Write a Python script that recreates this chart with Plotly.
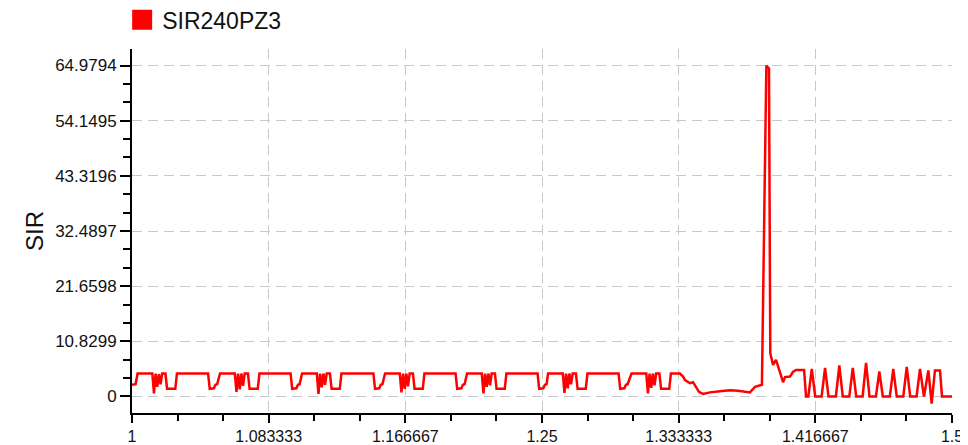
import plotly.graph_objects as go

series_name = "SIR240PZ3"
y_title = "SIR"

# ---- data ----
sir_x = [
    # periodic section
    1.0000, 1.0022, 1.0034, 1.0124, 1.0134, 1.0144, 1.0154, 1.0164, 1.0174, 1.0184, 1.0204, 1.0214, 1.0264, 1.0274, 1.0464, 1.0474, 1.0499, 1.0509, 1.0519,
    1.0537, 1.0627, 1.0637, 1.0647, 1.0657, 1.0667, 1.0677, 1.0687, 1.0707, 1.0717, 1.0767, 1.0777, 1.0967, 1.0977, 1.1002, 1.1012, 1.1022,
    1.1037, 1.1127, 1.1137, 1.1147, 1.1157, 1.1167, 1.1177, 1.1187, 1.1207, 1.1217, 1.1267, 1.1277, 1.1472, 1.1482, 1.1507, 1.1517, 1.1527,
    1.1543, 1.1633, 1.1643, 1.1653, 1.1663, 1.1673, 1.1683, 1.1693, 1.1713, 1.1723, 1.1773, 1.1783, 1.1973, 1.1983, 1.2008, 1.2018, 1.2028,
    1.2043, 1.2133, 1.2143, 1.2153, 1.2163, 1.2173, 1.2183, 1.2193, 1.2213, 1.2223, 1.2273, 1.2283, 1.2473, 1.2483, 1.2508, 1.2518, 1.2528,
    1.2537, 1.2627, 1.2637, 1.2647, 1.2657, 1.2667, 1.2677, 1.2687, 1.2707, 1.2717, 1.2767, 1.2777, 1.2967, 1.2977, 1.3002, 1.3012, 1.3022,
    1.3046, 1.3136, 1.3146, 1.3156, 1.3166, 1.3176, 1.3186, 1.3196, 1.3216, 1.3226, 1.3276, 1.3286,
    # transition and spike
    1.3341, 1.3360, 1.3372, 1.3402, 1.3421, 1.3457, 1.3482, 1.3524, 1.3585, 1.3646, 1.3695, 1.3738, 1.3768, 1.3799, 1.3829, 1.3841,
    1.3868, 1.3884, 1.3892, 1.3909, 1.3927, 1.3951, 1.3970, 1.3982, 1.4012, 1.4030, 1.4049, 1.4098, 1.4110,
    # oscillating tail
    1.4124, 1.4145, 1.4166, 1.4205, 1.4226, 1.4247, 1.4292, 1.4313, 1.4334, 1.4374, 1.4395, 1.4416,
    1.4455, 1.4476, 1.4497, 1.4536, 1.4557, 1.4578, 1.4621, 1.4642, 1.4663, 1.4703, 1.4724, 1.4745,
    1.4784, 1.4805, 1.4829, 1.4856, 1.4876, 1.4896, 1.4927, 1.4939, 1.5000,
]
sir_y = [
    2.3, 2.4, 4.5, 4.5, 0.6, 4.5, 1.9, 4.4, 2.4, 4.5, 4.5, 1.5, 1.5, 4.5, 4.5, 1.5, 1.6, 2.3, 2.4,
    4.5, 4.5, 0.9, 4.5, 1.4, 4.5, 2.1, 4.5, 4.5, 1.5, 1.5, 4.5, 4.5, 1.5, 1.6, 2.3, 2.4,
    4.5, 4.5, 0.5, 4.5, 1.8, 4.5, 2.3, 4.5, 4.5, 1.5, 1.5, 4.5, 4.5, 1.5, 1.6, 2.3, 2.4,
    4.5, 4.5, 0.8, 4.5, 1.5, 4.5, 2.0, 4.5, 4.5, 1.5, 1.5, 4.5, 4.5, 1.5, 1.6, 2.3, 2.4,
    4.5, 4.5, 0.6, 4.5, 1.9, 4.5, 2.2, 4.5, 4.5, 1.5, 1.5, 4.5, 4.5, 1.5, 1.6, 2.3, 2.4,
    4.5, 4.5, 0.7, 4.5, 1.6, 4.5, 2.4, 4.5, 4.5, 1.5, 1.5, 4.5, 4.5, 1.5, 1.6, 2.3, 2.4,
    4.5, 4.5, 0.6, 4.5, 1.7, 4.5, 2.2, 4.5, 4.5, 1.5, 1.5, 4.5,
    4.5, 3.9, 3.2, 2.6, 2.8, 0.9, 0.5, 0.8, 1.0, 1.2, 1.1, 1.0, 0.8, 1.9, 2.2, 2.3,
    64.9794, 64.4, 8.5, 6.2, 7.2, 4.8, 2.8, 3.8, 3.9, 4.8, 5.2, 5.2, 0.0,
    0.0, 5.4, 0.0, 0.0, 5.6, 0.0, 0.0, 6.1, 0.0, 0.0, 5.6, 0.0,
    0.0, 6.6, 0.0, 0.0, 4.9, 0.0, 0.0, 5.4, 0.0, 0.0, 5.8, 0.0,
    0.0, 5.4, 0.0, 5.1, -1.4, 5.1, 5.1, 0.0, 0.0,
]

x_tick_vals = [1.0, 1.0833333, 1.1666667, 1.25, 1.3333333, 1.4166667, 1.5]
x_tick_text = ["1", "1.083333", "1.166667", "1.25", "1.333333", "1.416667", "1.5"]
y_tick_vals = [0, 10.8299, 21.6598, 32.4897, 43.3196, 54.1495, 64.9794]
y_tick_text = ["0", "10.8299", "21.6598", "32.4897", "43.3196", "54.1495", "64.9794"]
x_range = [1.0, 1.5]
y_range = [-3.249, 68.228]

FONT = "Liberation Sans, Arial, sans-serif"
RED = "#ff0000"

fig = go.Figure()
fig.add_trace(go.Scatter(
    x=sir_x, y=sir_y, mode="lines", name=series_name, showlegend=False,
    line=dict(color=RED, width=2.5),
))
# legend key (square swatch)
fig.add_trace(go.Scatter(
    x=[None], y=[None], mode="markers", name=series_name, showlegend=True,
    marker=dict(symbol="square", size=16, color=RED, line=dict(color=RED, width=4)),
))

axis_common = dict(
    showline=True, linecolor="black", linewidth=2,
    ticks="outside", tickwidth=2, tickcolor="black",
    showgrid=True, gridcolor="#c8c8c8", gridwidth=1, griddash="10px,6px",
    zeroline=False, automargin=False,
)

fig.update_layout(
    width=968, height=445,
    margin=dict(l=124, r=24, t=41, b=40, autoexpand=False),
    paper_bgcolor="white", plot_bgcolor="white",
    font=dict(family=FONT, color="#111111"),
    xaxis=dict(
        range=x_range, tickmode="array", tickvals=x_tick_vals, ticktext=x_tick_text,
        ticklen=8, tickfont=dict(family=FONT, size=16, color="#111111"),
        minor=dict(tickmode="linear", tick0=1.0, dtick=1/36, ticks="outside",
                   ticklen=6, tickwidth=2, tickcolor="black", showgrid=False),
        **axis_common,
    ),
    yaxis=dict(
        range=y_range, tickmode="array", tickvals=y_tick_vals, ticktext=y_tick_text,
        ticklen=10, tickfont=dict(family=FONT, size=17, color="#111111"),
        minor=dict(tickmode="linear", tick0=0, dtick=10.8299/3, ticks="outside",
                   ticklen=7, tickwidth=2, tickcolor="black", showgrid=False),
        title=dict(text=y_title, font=dict(family=FONT, size=24, color="#111111"), standoff=5),
        **axis_common,
    ),
    showlegend=True,
    legend=dict(
        x=-0.012, xanchor="left", y=1.08, yanchor="middle",
        font=dict(family=FONT, size=23, color="#111111"),
        bgcolor="rgba(0,0,0,0)", borderwidth=0,
    ),
)

fig.write_html("out.html")
